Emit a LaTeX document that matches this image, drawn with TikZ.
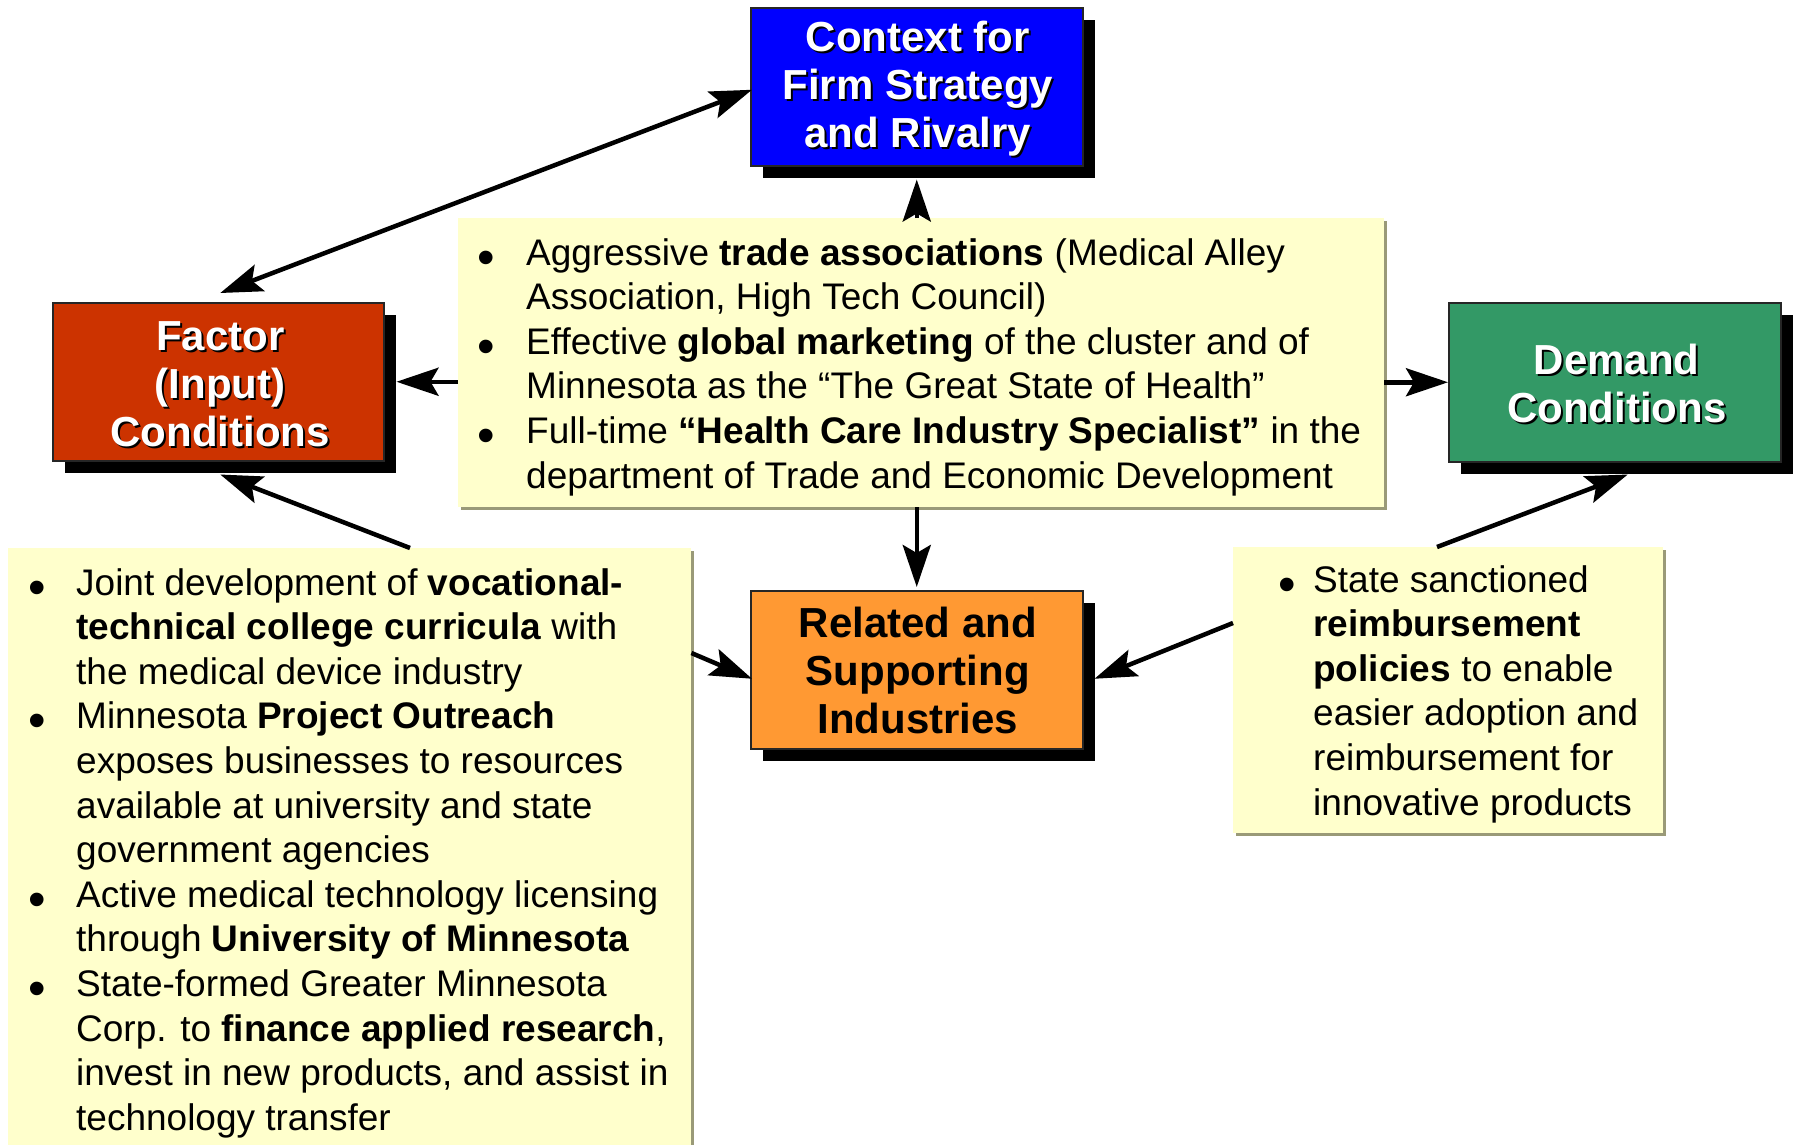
\documentclass[tikz,border=0pt]{standalone}
\usepackage{fontspec}
\setmainfont{Liberation Sans}
\usetikzlibrary{arrows.meta,shadows,calc}

\definecolor{ctxblue}{HTML}{0000FF}
\definecolor{facred}{HTML}{CC3300}
\definecolor{demgreen}{HTML}{339966}
\definecolor{relorange}{HTML}{FF9933}
\definecolor{noteyellow}{HTML}{FFFFCC}
\definecolor{noteshade}{HTML}{9A9A78}

% bullet mark centred on the current point, and hanging indent
\newcommand\bl{\makebox[0pt][c]{\raisebox{-9pt}{\fontsize{50}{50}\selectfont •}}}

\tikzset{
  x=1pt, y=-1pt,
  pbox/.style={draw=black!85, line width=1.5pt, inner sep=0pt, anchor=north west,
    drop shadow={shadow xshift=12pt, shadow yshift=-12pt, fill=black, opacity=1}},
  notebox/.style={fill=noteyellow, inner sep=0pt, anchor=north west,
    drop shadow={shadow xshift=3pt, shadow yshift=-3pt, fill=noteshade, opacity=1}},
  titletxt/.style={font=\fontsize{42}{48}\selectfont\bfseries, align=center, inner sep=0pt},
  notetxt/.style={font=\fontsize{37}{44.6}\selectfont, inner sep=0pt, anchor=base west},
  arr/.style={line width=4.5pt, -{Stealth[length=42pt, width=28pt, inset=8pt]}},
  arr2/.style={line width=4.5pt, {Stealth[length=42pt, width=28pt, inset=8pt]}-{Stealth[length=42pt, width=28pt, inset=8pt]}}
}

\begin{document}
\begin{tikzpicture}
\useasboundingbox (0,0) rectangle (1797,1144);

% ---- diamond boxes ----
\node[pbox, fill=ctxblue, minimum width=332pt, minimum height=158pt] (ctx) at (750,7) {};
\node[pbox, fill=facred, minimum width=331pt, minimum height=158pt] (factor) at (52,302) {};
\node[pbox, fill=demgreen, minimum width=332pt, minimum height=159pt] (dem) at (1448,302) {};
\node[pbox, fill=relorange, minimum width=332pt, minimum height=158pt] (rel) at (750,590) {};

\node[titletxt, text=black] (ctxsh) at ($(ctx.center)+(3,4)$) {Context for\\Firm Strategy\\and Rivalry};
\node[titletxt, text=white] (ctxtx) at ($(ctx.center)+(1,2)$) {Context for\\Firm Strategy\\and Rivalry};

\node[titletxt, text=black] (facsh) at ($(factor.center)+(4,4)$) {Factor\\(Input)\\Conditions};
\node[titletxt, text=white] (factx) at ($(factor.center)+(2,2)$) {Factor\\(Input)\\Conditions};

\node[titletxt, text=black] (demsh) at ($(dem.center)+(4,3)$) {Demand\\Conditions};
\node[titletxt, text=white] (demtx) at ($(dem.center)+(2,1)$) {Demand\\Conditions};

\node[titletxt, text=black] (reltx) at ($(rel.center)+(1,1)$) {Related and\\Supporting\\Industries};

% ---- note boxes ----
\node[notebox, minimum width=926pt, minimum height=289pt] (mid) at (458,218) {};
\node[notebox, minimum width=683pt, minimum height=610pt] (lbox) at (8,548) {};
\node[notebox, minimum width=430pt, minimum height=286pt] (rbox) at (1233,547) {};

\node[notetxt] (midtx) at (486,265) {\begin{tabular}[t]{@{}l@{}}
\bl\hspace{40pt}Aggressive \textbf{trade associations} (Medical Alley\\
\hspace{40pt}Association, High Tech Council)\\
\bl\hspace{40pt}Effective \textbf{global marketing} of the cluster and of\\
\hspace{40pt}Minnesota as the “The Great State of Health”\\
\bl\hspace{40pt}Full-time \textbf{“Health Care Industry Specialist”} in the\\
\hspace{40pt}department of Trade and Economic Development
\end{tabular}};

\node[notetxt] (ltx) at (37,595) {\begin{tabular}[t]{@{}l@{}}
\bl\hspace{39pt}Joint development of \textbf{vocational-}\\
\hspace{39pt}\textbf{technical college curricula} with\\
\hspace{39pt}the medical device industry\\
\bl\hspace{39pt}Minnesota \textbf{Project Outreach}\\
\hspace{39pt}exposes businesses to resources\\
\hspace{39pt}available at university and state\\
\hspace{39pt}government agencies\\
\bl\hspace{39pt}Active medical technology licensing\\
\hspace{39pt}through \textbf{University of Minnesota}\\
\bl\hspace{39pt}State-formed Greater Minnesota\\
\hspace{39pt}Corp. to \textbf{finance applied research},\\
\hspace{39pt}invest in new products, and assist in\\
\hspace{39pt}technology transfer
\end{tabular}};

\node[notetxt] (rtx) at (1287,592) {\begin{tabular}[t]{@{}l@{}}
\bl\hspace{26pt}State sanctioned\\
\hspace{26pt}\textbf{reimbursement}\\
\hspace{26pt}\textbf{policies} to enable\\
\hspace{26pt}easier adoption and\\
\hspace{26pt}reimbursement for\\
\hspace{26pt}innovative products
\end{tabular}};

% ---- connectors ----
\draw[arr2] ($(factor.north)+(2,-9)$) -- ($(ctx.west)+(2,3)$);
\draw[arr] (ctx.south |- mid.north) -- ($(ctx.south)+(0,13)$);
\draw[arr] (mid.west |- factor.east) -- ($(factor.east)+(12,0)$);
\draw[arr] (mid.east |- dem.west) -- (dem.west);
\draw[arr] (rel.north |- mid.south) -- ($(rel.north)+(0,-3)$);
\draw[arr] ($(lbox.north west)+(402,0)$) -- ($(factor.south)+(2,13)$);
\draw[arr] ($(lbox.north east)+(0,105)$) -- ($(rel.west)+(2,9)$);
\draw[arr] ($(rbox.north west)+(0,76)$) -- ($(rel.east)+(11,9)$);
\draw[arr] ($(rbox.north west)+(204,0)$) -- ($(dem.south)+(13,12)$);
\end{tikzpicture}
\end{document}
